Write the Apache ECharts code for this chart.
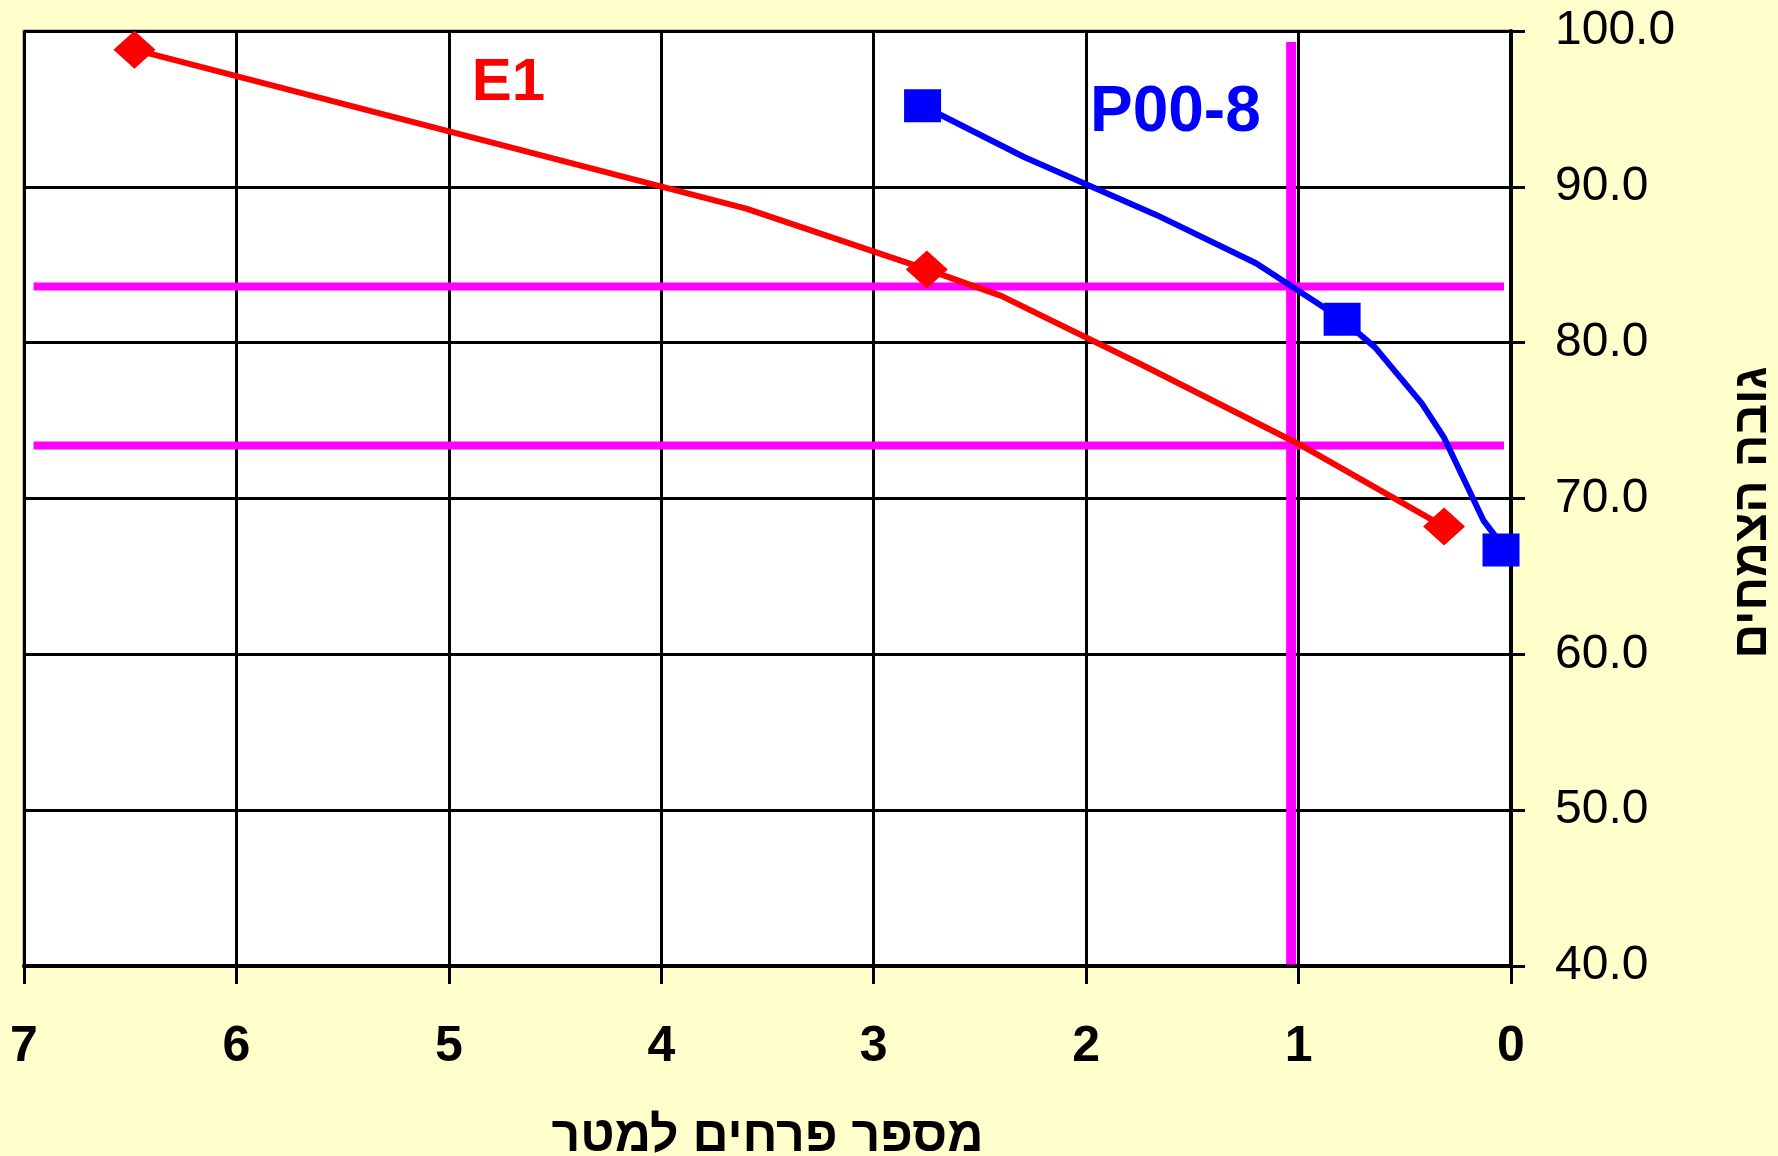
<!DOCTYPE html>
<html>
<head>
<meta charset="utf-8">
<script src="https://cdn.jsdelivr.net/npm/echarts@6/dist/echarts.min.js"></script>
<style>
html, body { margin: 0; padding: 0; background: #FFFFCC; }
#chart { width: 1778px; height: 1156px; }
</style>
</head>
<body>
<div id="chart"></div>
<script>
// נתונים שנקראו מהגרף
var xTicks = [0, 1, 2, 3, 4, 5, 6, 7];
var yTicks = [40, 50, 60, 70, 80, 90, 100];

// E1 - קו ונקודות מדידה
var e1Line = [[6.48, 98.8], [3.6, 88.6], [2.75, 84.7], [2.4, 83.0], [1.74, 78.6], [1.0, 73.5], [0.315, 68.2]];
var e1Points = [[6.48, 98.8], [2.75, 84.7], [0.315, 68.2]];

// P00-8 - קו ונקודות מדידה
var pLine = [[2.77, 95.2], [2.29, 91.9], [1.67, 88.2], [1.2, 85.1], [0.795, 81.5], [0.64, 79.7],
             [0.42, 76.1], [0.315, 73.9], [0.13, 68.6], [0.08, 67.7], [0.047, 66.7]];
var pPoints = [[2.77, 95.2], [0.795, 81.5], [0.047, 66.7]];

// קווי עזר (סגול)
var guideHigh = [[6.955, 83.6], [0.033, 83.6]];
var guideLow = [[6.955, 73.4], [0.033, 73.4]];
var guideVert = [[1.035, 99.3], [1.035, 40.1]];

var seriesNames = ['E1', 'P00-8'];
var labelPos = [[4.72, 96.65], [1.58, 94.7]];

var myChart = echarts.init(document.getElementById('chart'));

var fontFamily = "'Liberation Sans', Arial, sans-serif";

myChart.setOption({
    backgroundColor: '#FFFFCC',
    animation: false,
    grid: {
        left: 24,
        right: 267,
        top: 31,
        bottom: 190,
        containLabel: false,
        outerBoundsMode: 'none',
        show: true,
        backgroundColor: '#ffffff',
        borderColor: '#808080',
        borderWidth: 3
    },
    xAxis: {
        type: 'value',
        min: xTicks[0],
        max: xTicks[xTicks.length - 1],
        interval: 1,
        inverse: true,
        name: 'מספר פרחים למטר',
        nameLocation: 'middle',
        nameGap: 146,
        nameTextStyle: { fontFamily: fontFamily, fontWeight: 'bold', fontSize: 50, color: '#000' },
        axisLine: { onZero: false, lineStyle: { color: '#000', width: 4 } },
        axisTick: { show: true, length: 18, lineStyle: { color: '#000', width: 3 } },
        axisLabel: { margin: 56, fontFamily: fontFamily, fontWeight: 'bold', fontSize: 50, color: '#000' },
        splitLine: { show: true, lineStyle: { color: '#000', width: 3 } }
    },
    yAxis: {
        type: 'value',
        position: 'right',
        min: yTicks[0],
        max: yTicks[yTicks.length - 1],
        interval: 10,
        name: 'גובה הצמחים',
        nameLocation: 'middle',
        nameRotate: 90,
        nameGap: 218,
        nameTextStyle: { fontFamily: fontFamily, fontWeight: 'bold', fontSize: 48, color: '#000', padding: [0, 28, 0, 0] },
        axisLine: { show: true, onZero: false, lineStyle: { color: '#000', width: 4 } },
        axisTick: { show: true, length: 14, lineStyle: { color: '#000', width: 3 } },
        axisLabel: {
            margin: 44, fontFamily: fontFamily, fontSize: 48, color: '#000',
            formatter: function (v) { return v.toFixed(1); }
        },
        splitLine: { show: true, lineStyle: { color: '#000', width: 3 } }
    },
    series: [
        { type: 'line', data: guideHigh, symbol: 'none', z: 3, lineStyle: { color: '#FF00FF', width: 8 } },
        { type: 'line', data: guideLow, symbol: 'none', z: 3, lineStyle: { color: '#FF00FF', width: 8 } },
        { type: 'line', data: guideVert, symbol: 'none', z: 3, lineStyle: { color: '#FF00FF', width: 10 } },
        { name: seriesNames[0], type: 'line', data: e1Line, symbol: 'none', z: 4, lineStyle: { color: '#FF0000', width: 6 } },
        { name: seriesNames[1], type: 'line', data: pLine, symbol: 'none', z: 4, lineStyle: { color: '#0000FF', width: 6 } },
        { type: 'scatter', data: e1Points, symbol: 'diamond', symbolSize: [42, 38], z: 5, itemStyle: { color: '#FF0000', opacity: 1 } },
        { type: 'scatter', data: pPoints, symbol: 'rect', symbolSize: [37, 33], z: 5, itemStyle: { color: '#0000FF', opacity: 1 } },
        {
            type: 'scatter', symbolSize: 0, z: 6,
            itemStyle: { opacity: 1 },
            data: [
                { value: labelPos[0], label: { formatter: seriesNames[0], color: '#FF0000', fontSize: 60 } },
                { value: labelPos[1], label: { formatter: seriesNames[1], color: '#0000FF', fontSize: 64 } }
            ],
            label: { show: true, position: 'inside', fontFamily: fontFamily, fontWeight: 'bold' }
        }
    ]
});
</script>
</body>
</html>
